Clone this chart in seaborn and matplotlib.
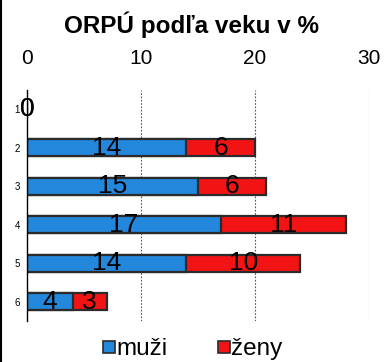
import matplotlib
matplotlib.use("Agg")
import matplotlib.pyplot as plt
from matplotlib.lines import Line2D
import seaborn as sns
import pandas as pd
import numpy as np

# Age groups and shares (%) of men and women
age_groups = ["1", "2", "3", "4", "5", "6"]
muzi = [0, 14, 15, 17, 14, 4]
zeny = [0, 6, 6, 11, 10, 3]
x_ticks = [0, 10, 20, 30]

BLUE = "#2387DC"
RED = "#F21414"
EDGE = "#2b2b2b"

sns.set_style("white")
plt.rcParams["font.family"] = ["Liberation Sans", "DejaVu Sans"]
plt.rcParams["text.color"] = "black"
plt.rcParams["xtick.color"] = "black"
plt.rcParams["ytick.color"] = "black"

df = pd.DataFrame({
    "skupina": age_groups,
    "muži": muzi,
    "ženy": zeny,
})
df["spolu"] = df["muži"] + df["ženy"]

fig = plt.figure(figsize=(3.84, 3.62), dpi=100)
ax = fig.add_axes([0.0703, 0.1133, 0.8898, 0.6381])

# stacked look: total in red underneath, men in blue on top
sns.barplot(data=df, y="skupina", x="spolu", orient="h", color=RED,
            saturation=1, width=0.45, edgecolor=EDGE, linewidth=1.6, ax=ax)
sns.barplot(data=df, y="skupina", x="muži", orient="h", color=BLUE,
            saturation=1, width=0.45, edgecolor=EDGE, linewidth=1.6, ax=ax)

# segment value labels
for i, (m, z) in enumerate(zip(df["muži"], df["ženy"])):
    ax.text(m / 2, i, f"{m}", ha="center", va="center", fontsize=19,
            color="black")
    ax.text(m + z / 2, i, f"{z}", ha="center", va="center", fontsize=19,
            color="black")

ax.set_xlim(0, 30)
ax.set_ylim(len(age_groups) - 0.5, -0.5)
ax.set_xticks(x_ticks)
ax.xaxis.tick_top()
ax.tick_params(axis="x", length=0, labelsize=15, pad=16, labelcolor="black")
ax.set_xlabel("")
ax.set_ylabel("")

ax.set_yticks(range(len(age_groups)))
ax.set_yticklabels(age_groups)
ax.tick_params(axis="y", which="major", length=0, labelsize=7, pad=5,
               labelcolor="black")
ax.set_yticks(np.arange(-0.5, len(age_groups), 1), minor=True)
ax.tick_params(axis="y", which="minor", length=3, width=1, color="black",
               direction="out")

for g in x_ticks[1:]:
    ax.axvline(g, color="#555555", linestyle=(0, (1.5, 1.5)), linewidth=0.8,
               zorder=0)

for side in ["top", "right", "bottom"]:
    ax.spines[side].set_visible(False)
ax.spines["left"].set_color("black")
ax.spines["left"].set_linewidth(1.0)

fig.text(0.5, 0.931, "ORPÚ podľa veku v %", ha="center", va="center",
         fontsize=17.5, fontweight="bold", color="black")

handles = [
    Line2D([], [], marker="s", linestyle="", markersize=9,
           markerfacecolor=BLUE, markeredgecolor=EDGE, markeredgewidth=1.2),
    Line2D([], [], marker="s", linestyle="", markersize=9,
           markerfacecolor=RED, markeredgecolor=EDGE, markeredgewidth=1.2),
]
fig.legend(handles, ["muži", "ženy"], loc="center", ncol=2,
           bbox_to_anchor=(0.5, 0.035), frameon=False, fontsize=17.5,
           handletextpad=0.02, columnspacing=2.0, handlelength=0.6,
           labelcolor="black")

# border line at the left edge of the figure
fig.add_artist(Line2D([0.002, 0.002], [0, 1], transform=fig.transFigure,
                      color="black", linewidth=1.5))

fig.savefig("out.png", dpi=100)
